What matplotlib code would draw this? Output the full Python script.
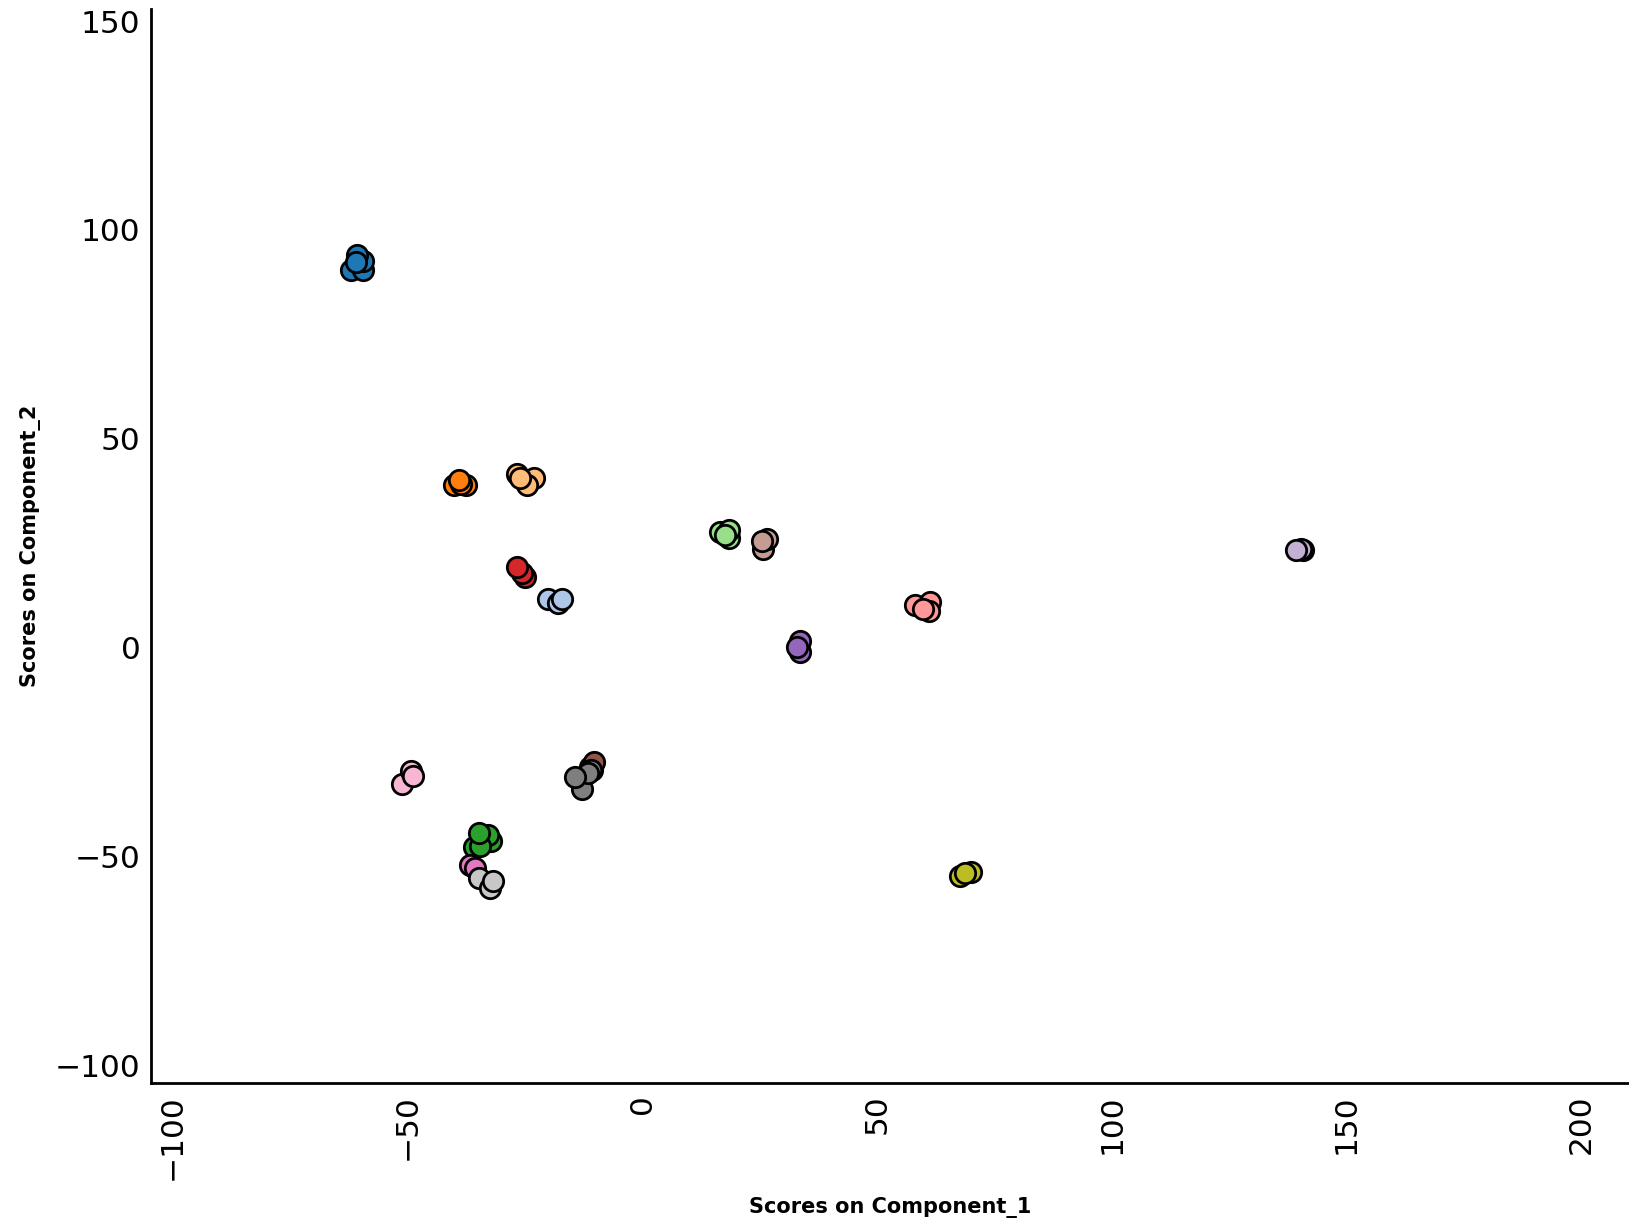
import matplotlib
matplotlib.use("Agg")
import matplotlib.pyplot as plt

groups = ["g1", "g2", "g3", "g4", "g5", "g6", "g7", "g8", "g9",
          "g10", "g11", "g12", "g13", "g14", "g15", "g16", "g17"]
colors = ["#1f77b4", "#ff7f0e", "#ffbb78", "#d62728", "#aec7e8", "#98df8a",
          "#c49c94", "#9467bd", "#ff9896", "#c5b0d5", "#f7b6d2", "#2ca02c",
          "#e377c2", "#c7c7c7", "#8c564b", "#7f7f7f", "#bcbd22"]
xs = [
    [-62.0, -59.5, -59.5, -60.8, -61.0],
    [-40.0, -37.5, -38.5, -39.0],
    [-23.1, -24.6, -26.6, -26.0],
    [-25.0, -25.5, -26.6],
    [-20.0, -18.0, -17.1],
    [18.4, 16.6, 18.4, 17.7],
    [25.7, 26.6, 25.5],
    [33.7, 33.7, 33.0],
    [58.1, 61.4, 61.0, 59.9],
    [140.8, 140.4, 139.2],
    [-51.2, -49.2, -48.8],
    [-35.9, -32.2, -32.8, -34.6, -34.8],
    [-36.6, -35.5],
    [-34.8, -32.4, -31.7],
    [-11.1, -10.6, -10.2],
    [-12.9, -10.9, -11.5, -14.4],
    [67.8, 70.1, 68.7],
]
ys = [
    [90.3, 90.3, 92.5, 94.0, 92.2],
    [38.8, 39.0, 39.2, 40.0],
    [40.5, 38.8, 41.5, 40.7],
    [16.9, 17.8, 19.2],
    [11.7, 10.7, 11.7],
    [26.1, 27.6, 28.1, 26.9],
    [23.6, 25.9, 25.6],
    [-1.2, 1.5, 0.2],
    [10.2, 10.9, 8.7, 9.2],
    [23.4, 23.6, 23.4],
    [-32.6, -29.6, -30.8],
    [-47.8, -46.3, -45.0, -47.5, -44.5],
    [-52.2, -52.7],
    [-55.2, -57.5, -56.0],
    [-28.6, -29.4, -27.4],
    [-33.8, -29.4, -30.1, -31.1],
    [-54.7, -53.7, -54.0],
]

fig = plt.figure(figsize=(16.29, 12.21), dpi=100)
ax = fig.add_axes([0.093, 0.113, 0.907, 0.88])
for g, c, x, y in zip(groups, colors, xs, ys):
    ax.scatter(x, y, s=215, c=c, edgecolors="black", linewidths=2, zorder=3)

ax.set_xlim(-104.5, 210.2)
ax.set_ylim(-104.3, 153)
ax.set_xticks([-100, -50, 0, 50, 100, 150, 200])
ax.set_yticks([-100, -50, 0, 50, 100, 150])
ax.tick_params(axis="both", length=0, labelsize=22.5, pad=8)
ax.tick_params(axis="x", labelrotation=90)
for s in ["top", "right"]:
    ax.spines[s].set_visible(False)
for s in ["left", "bottom"]:
    ax.spines[s].set_linewidth(2)
ax.set_xlabel("Scores on Component_1", fontsize=15, fontweight="bold", labelpad=12)
ax.set_ylabel("Scores on Component_2", fontsize=15, fontweight="bold", labelpad=10)

fig.savefig("out.png", dpi=100)
